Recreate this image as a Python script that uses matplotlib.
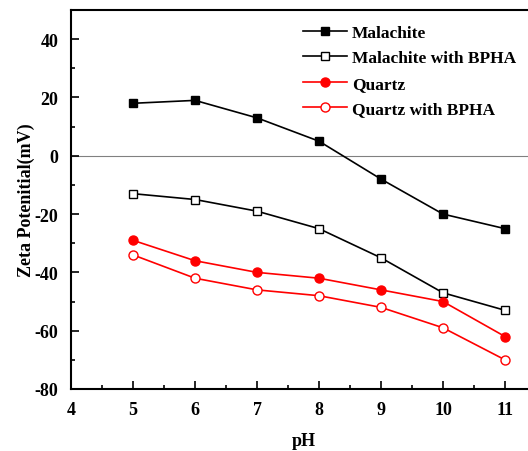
import matplotlib.pyplot as plt
from matplotlib.ticker import MultipleLocator

plt.rcParams['font.family'] = ['Liberation Serif', 'DejaVu Serif']
plt.rcParams['font.weight'] = 'bold'
plt.rcParams['axes.unicode_minus'] = False

ph = [5, 6, 7, 8, 9, 10, 11]
malachite = [18, 19, 13, 5, -8, -20, -25]
malachite_bpha = [-13, -15, -19, -25, -35, -47, -53]
quartz = [-29, -36, -40, -42, -46, -50, -62]
quartz_bpha = [-34, -42, -46, -48, -52, -59, -70]

fig = plt.figure(figsize=(5.28, 4.52), dpi=100)
ax = fig.add_axes([71 / 528, 62 / 452, 465 / 528, 379 / 452])

ax.axhline(0, color='gray', lw=0.8, zorder=1)

ax.plot(ph, malachite, '-s', color='black', lw=1.2, ms=6,
        mfc='black', mec='black', label='Malachite')
ax.plot(ph, malachite_bpha, '-s', color='black', lw=1.2, ms=5.5,
        mfc='white', mec='black', label='Malachite with BPHA')
ax.plot(ph, quartz, '-o', color='red', lw=1.2, ms=6.5,
        mfc='red', mec='red', label='Quartz')
ax.plot(ph, quartz_bpha, '-o', color='red', lw=1.2, ms=6.5,
        mfc='white', mec='red', label='Quartz with BPHA')

ax.set_xlim(4, 11.5)
ax.set_ylim(-80, 50)
ax.xaxis.set_major_locator(MultipleLocator(1))
ax.xaxis.set_minor_locator(MultipleLocator(0.5))
ax.yaxis.set_major_locator(MultipleLocator(20))
ax.yaxis.set_minor_locator(MultipleLocator(10))
ax.tick_params(which='both', direction='in', labelsize=13, width=1.2)
ax.tick_params(which='major', length=6)
ax.tick_params(which='minor', length=3)
ax.tick_params(axis='y', pad=9)
ax.tick_params(axis='x', pad=9)
for s in ax.spines.values():
    s.set_linewidth(1.5)

ax.set_xlabel('pH', fontsize=13, fontweight='bold', labelpad=10)
ax.set_ylabel('Zeta Potenitial(mV)', fontsize=13, fontweight='bold', labelpad=0)

ax.legend(loc='upper left', bbox_to_anchor=(220 / 465, 0.993), frameon=False,
          fontsize=12.5, handlelength=2.5, handletextpad=0.3,
          labelspacing=0.53, borderaxespad=0.3)

fig.savefig('out.png', dpi=100)
